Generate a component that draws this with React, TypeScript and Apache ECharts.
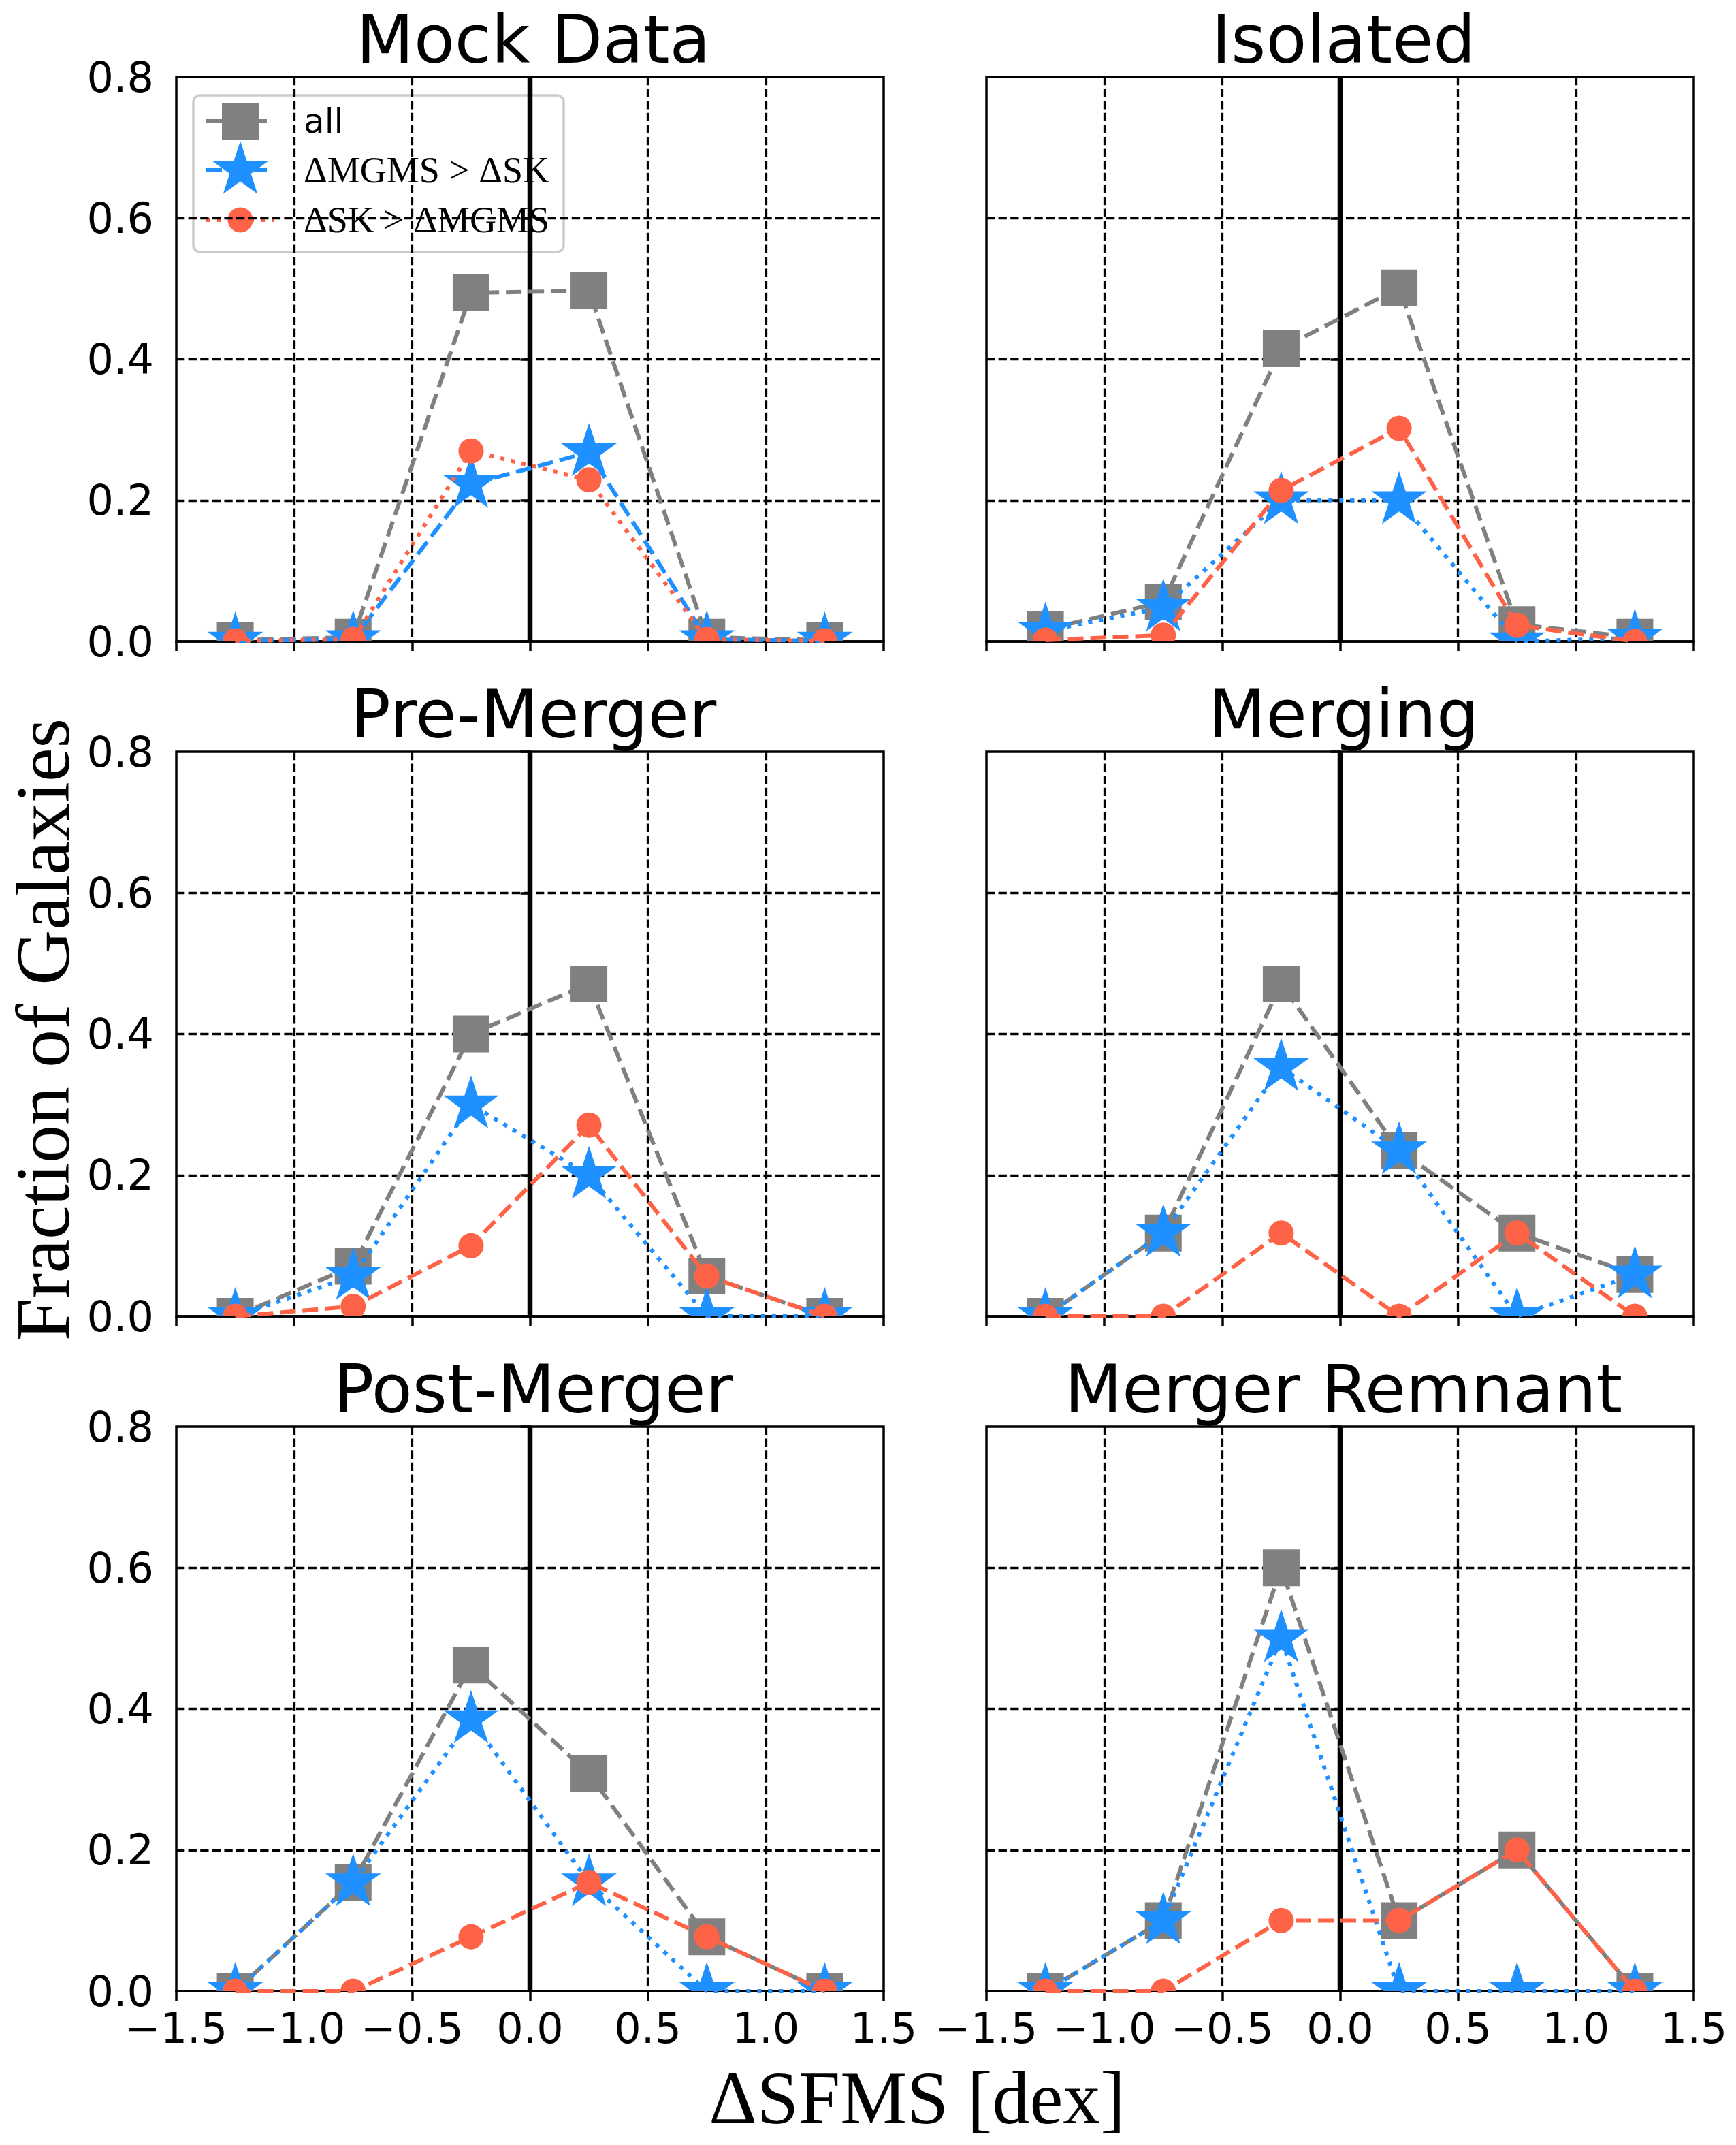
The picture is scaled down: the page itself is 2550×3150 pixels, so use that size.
import React, { useEffect, useRef } from 'react';
import * as echarts from 'echarts';

// ---------------- data ----------------
const X_BINS = [-1.25, -0.75, -0.25, 0.25, 0.75, 1.25];
const PANEL_TITLES = ['Mock Data', 'Isolated', 'Pre-Merger', 'Merging', 'Post-Merger', 'Merger Remnant'];

const MOCK_ALL = [0.002, 0.006, 0.494, 0.497, 0.006, 0.002];
const MOCK_MGMS = [0.001, 0.003, 0.223, 0.268, 0.003, 0.001];
const MOCK_SK = [0.001, 0.003, 0.27, 0.229, 0.003, 0.001];

const ISO_ALL = [0.017, 0.056, 0.415, 0.501, 0.024, 0.006];
const ISO_MGMS = [0.015, 0.048, 0.2, 0.2, 0.0, 0.005];
const ISO_SK = [0.002, 0.009, 0.214, 0.302, 0.023, 0.0];

const PRE_ALL = [0.0, 0.071, 0.4, 0.471, 0.057, 0.0];
const PRE_MGMS = [0.0, 0.057, 0.3, 0.2, 0.0, 0.0];
const PRE_SK = [0.0, 0.014, 0.1, 0.271, 0.057, 0.0];

const MERGING_ALL = [0.0, 0.118, 0.471, 0.235, 0.118, 0.059];
const MERGING_MGMS = [0.0, 0.118, 0.353, 0.235, 0.0, 0.059];
const MERGING_SK = [0.0, 0.0, 0.118, 0.0, 0.118, 0.0];

const POST_ALL = [0.0, 0.154, 0.462, 0.308, 0.077, 0.0];
const POST_MGMS = [0.0, 0.154, 0.385, 0.154, 0.0, 0.0];
const POST_SK = [0.0, 0.0, 0.077, 0.154, 0.077, 0.0];

const REMNANT_ALL = [0.0, 0.1, 0.6, 0.1, 0.2, 0.0];
const REMNANT_MGMS = [0.0, 0.1, 0.5, 0.0, 0.0, 0.0];
const REMNANT_SK = [0.0, 0.0, 0.1, 0.1, 0.2, 0.0];

const ALL_SERIES = [MOCK_ALL, ISO_ALL, PRE_ALL, MERGING_ALL, POST_ALL, REMNANT_ALL];
const MGMS_SERIES = [MOCK_MGMS, ISO_MGMS, PRE_MGMS, MERGING_MGMS, POST_MGMS, REMNANT_MGMS];
const SK_SERIES = [MOCK_SK, ISO_SK, PRE_SK, MERGING_SK, POST_SK, REMNANT_SK];

const LEGEND_LABELS = ['all', 'ΔMGMS > ΔSK', 'ΔSK > ΔMGMS'];
const X_LABEL = 'ΔSFMS [dex]';
const Y_LABEL = 'Fraction of Galaxies';
const ZERO_LINE_X = 0;
const X_MIN = -1.5;
const X_MAX = 1.5;
const Y_MIN = 0;
const Y_MAX = 0.8;

// ---------------- style / layout ----------------
const GRAY = '#808080';
const BLUE = '#1E90FF';
const RED = '#FF6347';
const DASHED = [23, 10];
const DOTTED = [6, 10];
const LINE_W = 6;

const COL_LEFT = [259, 1449];
const ROW_TOP = [113, 1104, 2095];
const PANEL_W = 1039;
const PANEL_H = 829;

const SQUARE = 54;
const STAR_R = 43;
const CIRCLE_R = 18.5;

const SANS = '"DejaVu Sans", sans-serif';
const SERIF = '"Liberation Serif", "DejaVu Serif", serif';

function starPoints(cx: number, cy: number, R: number) {
  const r = R * 0.381966;
  const pts: number[][] = [];
  for (let k = 0; k < 10; k++) {
    const a = -Math.PI / 2 + (k * Math.PI) / 5;
    const rad = k % 2 === 0 ? R : r;
    pts.push([cx + rad * Math.cos(a), cy + rad * Math.sin(a)]);
  }
  return pts;
}

function markerShape(kind: string, x: number, y: number) {
  if (kind === 'square') {
    return { type: 'rect', shape: { x: x - SQUARE / 2, y: y - SQUARE / 2, width: SQUARE, height: SQUARE }, style: { fill: GRAY } };
  }
  if (kind === 'circle') {
    return { type: 'circle', shape: { cx: x, cy: y, r: CIRCLE_R }, style: { fill: RED } };
  }
  return { type: 'polygon', shape: { points: starPoints(x, y, STAR_R) }, style: { fill: BLUE } };
}

function fmt(v: number) {
  const s = Math.abs(v).toFixed(1);
  return v < -1e-9 ? '\u2212' + s : s;
}

function buildOption() {
  const grids: any[] = [];
  const xAxes: any[] = [];
  const yAxes: any[] = [];
  const series: any[] = [];
  const titles: any[] = [];

  for (let i = 0; i < 6; i++) {
    const row = Math.floor(i / 2);
    const col = i % 2;
    const left = COL_LEFT[col];
    const top = ROW_TOP[row];
    grids.push({
      left, top, width: PANEL_W, height: PANEL_H,
      show: true, borderColor: '#000', borderWidth: 3.5, backgroundColor: 'transparent',
      containLabel: false,
    });
    titles.push({
      text: PANEL_TITLES[i],
      left: left + PANEL_W / 2,
      top: top - 109,
      textAlign: 'center',
      textStyle: { fontFamily: SANS, fontSize: 98, fontWeight: 'normal', color: '#000' },
    });
    const gridLine = { show: true, showMinLine: false, showMaxLine: false, lineStyle: { color: '#000', width: 3.3, type: [12.3, 5.3] } };
    xAxes.push({
      type: 'value', gridIndex: i, min: X_MIN, max: X_MAX, interval: 0.5,
      axisLine: { show: true, onZero: false, lineStyle: { color: '#000', width: 3.5 } },
      axisTick: { show: true, inside: false, length: 14, lineStyle: { color: '#000', width: 3.5 } },
      axisLabel: {
        show: row === 2, formatter: fmt, fontFamily: SANS, fontSize: 62, lineHeight: 46, color: '#000', margin: 31,
        showMinLabel: true, showMaxLabel: true,
      },
      splitLine: gridLine,
    });
    yAxes.push({
      type: 'value', gridIndex: i, min: Y_MIN, max: Y_MAX, interval: 0.2,
      axisLine: { show: true, lineStyle: { color: '#000', width: 3.5 } },
      axisTick: { show: true, inside: false, length: 14, lineStyle: { color: '#000', width: 3.5 } },
      axisLabel: {
        show: col === 0, formatter: fmt, fontFamily: SANS, fontSize: 62, lineHeight: 46, color: '#000', margin: 33,
        showMinLabel: true, showMaxLabel: true,
      },
      splitLine: gridLine,
    });

    // solid vertical line at zero
    series.push({
      type: 'line', xAxisIndex: i, yAxisIndex: i, z: 1.9, silent: true,
      symbol: 'none', showSymbol: false, clip: true,
      data: [[ZERO_LINE_X, Y_MIN], [ZERO_LINE_X, Y_MAX]],
      lineStyle: { color: '#000', width: 7.5, type: 'solid', cap: 'butt' },
    });

    const mgmsDash = i === 0 ? DASHED : DOTTED;
    const skDash = i === 0 ? DOTTED : DASHED;
    const groups = [
      { vals: ALL_SERIES[i], color: GRAY, dash: DASHED, kind: 'square', z: 2 },
      { vals: MGMS_SERIES[i], color: BLUE, dash: mgmsDash, kind: 'star', z: 4 },
      { vals: SK_SERIES[i], color: RED, dash: skDash, kind: 'circle', z: 6 },
    ];
    groups.forEach((g) => {
      const data = X_BINS.map((x, k) => [x, g.vals[k]]);
      series.push({
        type: 'line', xAxisIndex: i, yAxisIndex: i, data, z: g.z,
        symbol: 'none', showSymbol: false, silent: true, clip: true,
        lineStyle: { color: g.color, width: LINE_W, type: g.dash, cap: 'butt' },
      });
      series.push({
        type: 'custom', xAxisIndex: i, yAxisIndex: i, data, z: g.z + 1, clip: true, silent: true,
        encode: { x: 0, y: 1 },
        renderItem: (params: any, api: any) => {
          const p = api.coord([api.value(0), api.value(1)]);
          return markerShape(g.kind, p[0], p[1]);
        },
      });
    });
  }

  // legend (drawn inside first panel)
  const LEG_ROWS = [178, 250, 323];
  const legendKinds = [
    { color: GRAY, dash: DASHED, kind: 'square' },
    { color: BLUE, dash: DASHED, kind: 'star' },
    { color: RED, dash: DOTTED, kind: 'circle' },
  ];
  const legendChildren: any[] = [
    {
      type: 'rect', shape: { x: 284, y: 140, width: 544, height: 230, r: 10 },
      style: { fill: '#ffffff', stroke: '#cccccc', lineWidth: 3.5 },
    },
  ];
  legendKinds.forEach((lk, k) => {
    const y = LEG_ROWS[k];
    legendChildren.push({
      type: 'line', shape: { x1: 303, y1: y, x2: 403, y2: y },
      style: { stroke: lk.color, lineWidth: LINE_W, lineDash: lk.dash, lineCap: 'butt' },
    });
    legendChildren.push(markerShape(lk.kind, 353, y));
    legendChildren.push({
      type: 'text', x: 446, y,
      style: {
        text: LEGEND_LABELS[k], fill: '#000', align: 'left', verticalAlign: 'middle',
        font: k === 0 ? `50px ${SANS}` : `54px ${SERIF}`,
      },
    });
  });

  const graphic: any[] = [
    { type: 'group', z: 100, children: legendChildren },
    {
      type: 'text', x: 63, y: 1512, rotation: Math.PI / 2, z: 100,
      style: { text: Y_LABEL, fill: '#000', align: 'center', verticalAlign: 'middle', font: `112px ${SERIF}` },
    },
    {
      type: 'text', x: 1347, y: 3081, z: 100,
      style: { text: X_LABEL, fill: '#000', align: 'center', verticalAlign: 'middle', font: `110px ${SERIF}` },
    },
  ];

  return {
    animation: false,
    backgroundColor: '#ffffff',
    title: titles,
    grid: grids,
    xAxis: xAxes,
    yAxis: yAxes,
    series,
    graphic,
  };
}

export default function App() {
  const ref = useRef<HTMLDivElement>(null);
  useEffect(() => {
    if (!ref.current) return;
    const chart = echarts.init(ref.current, undefined, { renderer: 'svg', width: 2550, height: 3150 });
    chart.setOption(buildOption() as any);
    return () => chart.dispose();
  }, []);
  return (
    <div
      ref={ref}
      style={{ position: 'absolute', left: 0, top: 0, width: 2550, height: 3150, background: '#fff' }}
    />
  );
}
